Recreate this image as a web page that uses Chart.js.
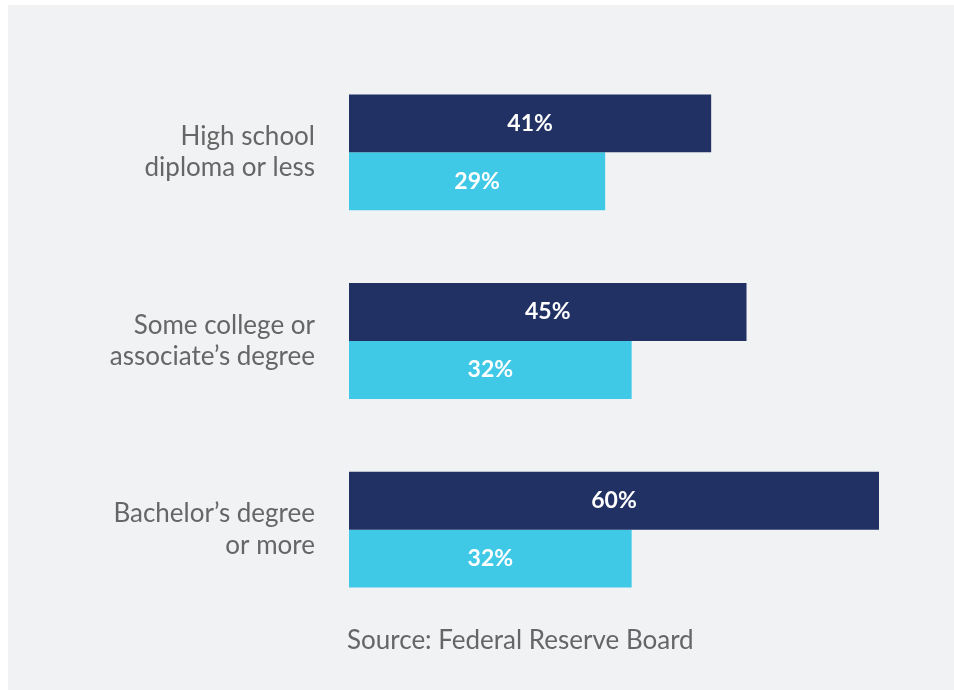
<!DOCTYPE html>
<html>
<head>
<meta charset="utf-8">
<script src="https://cdn.jsdelivr.net/npm/chart.js@4.4.1/dist/chart.umd.min.js"></script>
<style>
  html, body { margin: 0; padding: 0; background: #fff; }
  #wrap { width: 954px; height: 690px; }
</style>
</head>
<body>
<div id="wrap"><canvas id="eduChart"></canvas></div>
<script>
// Education groups and the two shares
const categories = [
  ["High school", "diploma or less"],
  ["Some college or", "associate\u2019s degree"],
  ["Bachelor\u2019s degree", "or more"],
];
const seriesA = [41, 45, 60];
const seriesB = [29, 32, 32];
const sourceText = "Source: Federal Reserve Board";

const FONT = "Lato, 'Open Sans', sans-serif";

// light grey panel behind the chart
const panelBg = {
  id: "panelBg",
  beforeDraw(chart) {
    const c = chart.ctx;
    c.save();
    c.fillStyle = "#ffffff";
    c.fillRect(0, 0, chart.width, chart.height);
    c.fillStyle = "#f1f2f4";
    c.fillRect(8, 5, chart.width - 8, chart.height - 5);
    c.restore();
  },
};

// percent labels in the middle of each bar + source note
const barText = {
  id: "barText",
  afterDatasetsDraw(chart) {
    const c = chart.ctx;
    c.save();
    c.font = "bold 23px " + FONT;
    c.fillStyle = "#ffffff";
    c.textAlign = "center";
    c.textBaseline = "middle";
    chart.data.datasets.forEach((ds, i) => {
      chart.getDatasetMeta(i).data.forEach((bar, j) => {
        c.fillText(ds.data[j] + "%", (bar.x + bar.base) / 2, bar.y);
      });
    });
    c.font = "26px " + FONT;
    c.fillStyle = "#666666";
    c.textAlign = "left";
    c.fillText(sourceText, chart.chartArea.left - 2, 641);
    c.restore();
  },
};

new Chart(document.getElementById("eduChart"), {
  type: "bar",
  data: {
    labels: categories,
    datasets: [
      { data: seriesA, backgroundColor: "#213164" },
      { data: seriesB, backgroundColor: "#40c9e6" },
    ],
  },
  options: {
    indexAxis: "y",
    responsive: true,
    maintainAspectRatio: false,
    animation: false,
    layout: { padding: { top: 58, bottom: 66, right: 75, left: 0 } },
    categoryPercentage: 0.614,
    barPercentage: 1,
    plugins: {
      legend: { display: false },
      tooltip: { enabled: false },
    },
    scales: {
      x: {
        min: 0,
        max: 60,
        display: false,
      },
      y: {
        grid: { display: false },
        border: { display: false },
        afterFit(scale) { scale.width = 349; },
        ticks: {
          color: "#666666",
          padding: 26,
          font: { family: FONT, size: 26, lineHeight: 1.2 },
        },
      },
    },
  },
  plugins: [panelBg, barText],
});
</script>
</body>
</html>
